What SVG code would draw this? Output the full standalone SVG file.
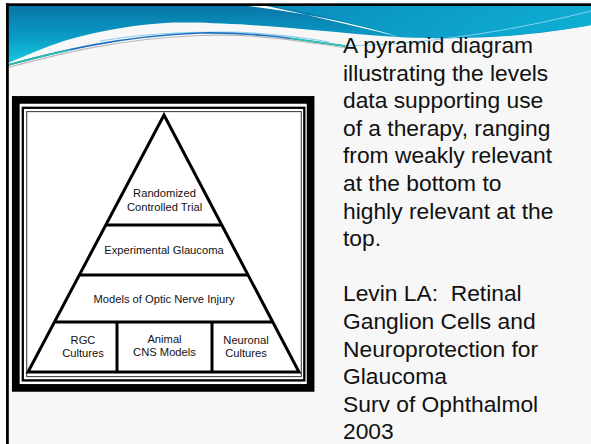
<svg xmlns="http://www.w3.org/2000/svg" width="591" height="444" viewBox="0 0 591 444">
  <style>
    .body { font-family: "Liberation Sans", Arial, sans-serif; font-size: 22.8px; fill: #111; }
    .lbl { font-family: "Liberation Sans", Arial, sans-serif; font-size: 11.2px; fill: #111; text-anchor: middle; }
    .pyr { fill: none; stroke: #000; stroke-width: 3; stroke-linejoin: miter; stroke-linecap: butt; }
  </style>
  <defs>
    <linearGradient id="sky" x1="0" y1="5" x2="0" y2="65" gradientUnits="userSpaceOnUse">
      <stop offset="0" stop-color="#0874a6"/>
      <stop offset="0.55" stop-color="#0b9cc6"/>
      <stop offset="1" stop-color="#16cde0"/>
    </linearGradient>
    <linearGradient id="skyR" x1="260" y1="0" x2="591" y2="0" gradientUnits="userSpaceOnUse">
      <stop offset="0" stop-color="#0a8fc0"/>
      <stop offset="1" stop-color="#10b4d8"/>
    </linearGradient>
  </defs>

  <!-- slide background -->
  <rect x="0" y="0" width="591" height="444" fill="#ffffff"/>
  <rect x="6" y="4" width="585" height="440" fill="#f7f7f7"/>

  <!-- header wave -->
  <g id="header">
    <path d="M8,5 L591,5 L591,25 C560,31 520,36 480,37.5 C440,39 410,38 390,36.5 C340,33 290,27 250,25 C215,23 185,22 165,23 C130,25 100,31 67,40 C45,47 25,56 8,63 Z" fill="url(#sky)"/>
    <path d="M395,36.5 C440,38 470,37.5 500,36 C540,33 570,29 591,25 L591,5 L265,5 C320,14 360,24 395,36.5 Z" fill="url(#skyR)" opacity="0.85"/>
    <path d="M240,5 C300,12 350,22 400,37 C350,25 305,14 262,5 Z" fill="#ffffff"/>
    <path d="M8,66 C60,52 120,37 200,34 C260,32 300,40 345,46" fill="none" stroke="#b9b9b9" stroke-width="1.2" transform="translate(0,1.5)"/>
    <path d="M100,41 C140,34 180,32 220,32 C260,32 300,37 330,42" fill="none" stroke="#8fd0ec" stroke-width="1.2"/>
    <path d="M8,65 C60,51 120,36 200,33 C260,32 300,40 345,46" fill="none" stroke="#1d6fc2" stroke-width="1.6"/>
    <path d="M8,65 C30,59 50,54 70,50" fill="none" stroke="#22c3a8" stroke-width="1.6"/>
    <path d="M290,38 C310,41 330,44 345,46" fill="none" stroke="#27c6b0" stroke-width="1.6"/>
    <path d="M345,46 C420,44 500,34 591,11" fill="none" stroke="#7fd3ec" stroke-width="1"/>
  </g>

  <!-- slide border -->
  <rect x="6" y="3.3" width="585" height="2.7" fill="#000"/>
  <rect x="6" y="3.3" width="2.8" height="441" fill="#000"/>

  <!-- picture frame -->
  <g id="frame">
    <rect x="12" y="96" width="302.5" height="296" fill="#ffffff"/>
    <rect x="15.8" y="99.9" width="294.8" height="288" fill="none" stroke="#000" stroke-width="7.7"/>
    <rect x="22.8" y="107.8" width="281.5" height="272.6" fill="none" stroke="#000" stroke-width="2.3"/>
    <rect x="26.7" y="111.6" width="274.6" height="265" fill="none" stroke="#444" stroke-width="1.1"/>
  </g>

  <!-- pyramid -->
  <g id="pyramid">
    <polygon class="pyr" points="164,115 299,372 28,372"/>
    <line class="pyr" x1="106" y1="225" x2="222" y2="225"/>
    <line class="pyr" x1="79.6" y1="275" x2="248.4" y2="275"/>
    <line class="pyr" x1="55" y1="322" x2="273" y2="322"/>
    <line class="pyr" x1="117" y1="322" x2="117" y2="372"/>
    <line class="pyr" x1="212" y1="322" x2="212" y2="372"/>
  </g>

  <g id="tier-rct">
    <text class="lbl" x="164.5" y="197">Randomized</text>
    <text class="lbl" x="164.5" y="211">Controlled Trial</text>
  </g>
  <g id="tier-glaucoma">
    <text class="lbl" x="164" y="254">Experimental Glaucoma</text>
  </g>
  <g id="tier-optic">
    <text class="lbl" x="164" y="303">Models of Optic Nerve Injury</text>
  </g>
  <g id="tier-rgc">
    <text class="lbl" x="83" y="344">RGC</text>
    <text class="lbl" x="83" y="357">Cultures</text>
  </g>
  <g id="tier-animal">
    <text class="lbl" x="164.5" y="343">Animal</text>
    <text class="lbl" x="164.5" y="356">CNS Models</text>
  </g>
  <g id="tier-neuronal">
    <text class="lbl" x="246" y="344">Neuronal</text>
    <text class="lbl" x="246" y="357">Cultures</text>
  </g>

  <g id="connectors"/>

  <!-- description text -->
  <g id="description">
    <text class="body" x="343" y="53">A pyramid diagram</text>
    <text class="body" x="343" y="80.6">illustrating the levels</text>
    <text class="body" x="343" y="108.2">data supporting use</text>
    <text class="body" x="343" y="135.8">of a therapy, ranging</text>
    <text class="body" x="343" y="163.4">from weakly relevant</text>
    <text class="body" x="343" y="191">at the bottom to</text>
    <text class="body" x="343" y="218.6">highly relevant at the</text>
    <text class="body" x="343" y="246.2">top.</text>
    <text class="body" x="343" y="301.4" xml:space="preserve">Levin LA:  Retinal</text>
    <text class="body" x="343" y="329">Ganglion Cells and</text>
    <text class="body" x="343" y="356.6">Neuroprotection for</text>
    <text class="body" x="343" y="384.2">Glaucoma</text>
    <text class="body" x="343" y="411.8">Surv of Ophthalmol</text>
    <text class="body" x="343" y="439.4">2003</text>
  </g>
</svg>
